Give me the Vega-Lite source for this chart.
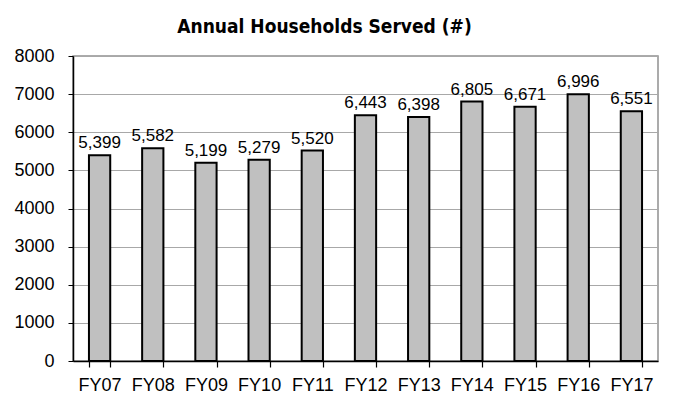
{
  "$schema": "https://vega.github.io/schema/vega-lite/v6.json",
  "autosize": "none",
  "width": 585,
  "height": 305,
  "padding": {"left": 73, "top": 56, "right": 25, "bottom": 46},
  "background": "white",
  "title": {
    "text": "Annual Households Served (#)",
    "font": "'DejaVu Sans Condensed', 'Liberation Sans', sans-serif",
    "fontSize": 19,
    "fontWeight": "bold",
    "color": "black",
    "anchor": "middle",
    "dx": -41,
    "offset": 10
  },
  "data": {
    "values": [
      {"year": "FY07", "households": 5399},
      {"year": "FY08", "households": 5582},
      {"year": "FY09", "households": 5199},
      {"year": "FY10", "households": 5279},
      {"year": "FY11", "households": 5520},
      {"year": "FY12", "households": 6443},
      {"year": "FY13", "households": 6398},
      {"year": "FY14", "households": 6805},
      {"year": "FY15", "households": 6671},
      {"year": "FY16", "households": 6996},
      {"year": "FY17", "households": 6551}
    ]
  },
  "encoding": {
    "x": {
      "field": "year",
      "type": "nominal",
      "sort": null,
      "title": null,
      "scale": {"paddingInner": 0.6, "paddingOuter": 0.3},
      "axis": {
        "tickBand": "extent",
        "labelAngle": 0,
        "labelFont": "Liberation Sans",
        "labelFontSize": 18,
        "labelColor": "black",
        "labelPadding": 9,
        "tickSize": 6,
        "tickColor": "black",
        "tickWidth": 1.2,
        "ticks": true,
        "domainColor": "black",
        "domainWidth": 1.5,
        "grid": false
      }
    },
    "y": {
      "field": "households",
      "type": "quantitative",
      "title": null,
      "scale": {"domain": [0, 8000], "nice": false},
      "axis": {
        "values": [0, 1000, 2000, 3000, 4000, 5000, 6000, 7000, 8000],
        "format": "d",
        "labelFont": "Liberation Sans",
        "labelFontSize": 18,
        "labelColor": "black",
        "labelPadding": 14,
        "tickSize": 5,
        "tickColor": "black",
        "domainColor": "black",
        "domainWidth": 1.5,
        "grid": true,
        "gridColor": "#a8a8a8",
        "gridWidth": 1.2
      }
    }
  },
  "layer": [
    {
      "mark": {"type": "bar", "fill": "#c0c0c0", "stroke": "black", "strokeWidth": 2}
    },
    {
      "mark": {"type": "text", "baseline": "alphabetic", "dy": -7, "font": "Liberation Sans", "fontSize": 17, "color": "black"},
      "encoding": {
        "text": {"field": "households", "type": "quantitative", "format": ","}
      }
    }
  ],
  "config": {
    "view": {"stroke": "#909090", "strokeWidth": 1.5}
  }
}
